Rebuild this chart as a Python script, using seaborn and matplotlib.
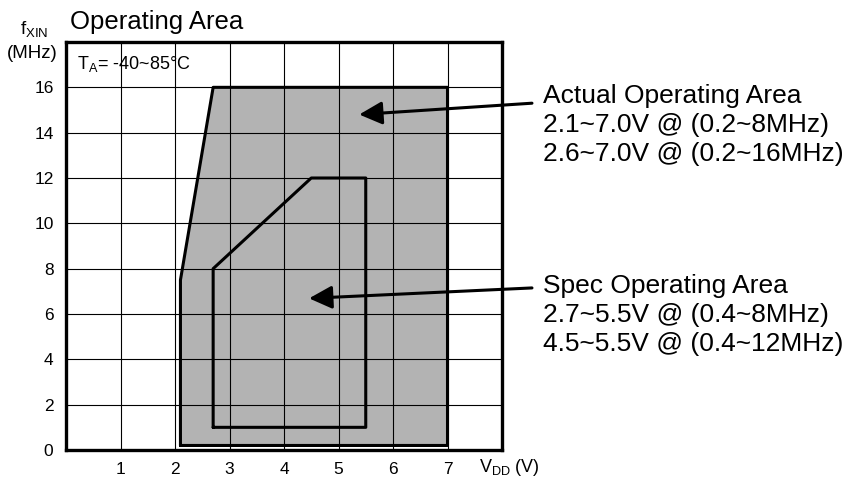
import numpy as np
import pandas as pd
import seaborn as sns
from matplotlib import pyplot as plt

# actual operating area outline (V, MHz)
actual_v = [2.1, 2.1, 2.7, 7.0, 7.0, 2.1]
actual_f = [0.2, 7.5, 16.0, 16.0, 0.2, 0.2]

# spec operating area outline (V, MHz)
spec_v = [2.7, 2.7, 4.5, 5.5, 5.5, 2.7]
spec_f = [1.0, 8.0, 12.0, 12.0, 1.0, 1.0]

x_ticks = [1, 2, 3, 4, 5, 6, 7]
y_ticks = [0, 2, 4, 6, 8, 10, 12, 14, 16]

actual_text = ['Actual Operating Area', '2.1~7.0V @ (0.2~8MHz)', '2.6~7.0V @ (0.2~16MHz)']
spec_text = ['Spec Operating Area', '2.7~5.5V @ (0.4~8MHz)', '4.5~5.5V @ (0.4~12MHz)']

sns.set_theme(style='white')
plt.rcParams['font.family'] = ['Liberation Sans', 'DejaVu Sans']
plt.rcParams['text.color'] = 'black'

fig = plt.figure(figsize=(8.53, 4.83), dpi=100)
ax = fig.add_axes([66 / 853, 33 / 483, 436 / 853, 408 / 483])

ax.fill(actual_v, actual_f, color='#b3b3b3', zorder=1, lw=0)

df_a = pd.DataFrame({'v': actual_v, 'f': actual_f})
df_s = pd.DataFrame({'v': spec_v, 'f': spec_f})
sns.lineplot(data=df_a, x='v', y='f', sort=False, estimator=None, color='black', lw=2.2, ax=ax, zorder=3)
sns.lineplot(data=df_s, x='v', y='f', sort=False, estimator=None, color='black', lw=2.2, ax=ax, zorder=3)

ax.set_xlim(0, 8)
ax.set_ylim(0, 18)
ax.set_xticks(x_ticks)
ax.set_yticks(y_ticks)
ax.set_axisbelow(False)
ax.grid(True, color='black', lw=0.8)
ax.tick_params(length=0, labelsize=12.5, colors='black', pad=9)
ax.set_xlabel('')
ax.set_ylabel('')
for s in ax.spines.values():
    s.set_color('black')
    s.set_linewidth(2.4)
    s.set_zorder(4)

# arrows
arrow = dict(arrowstyle='-|>,head_length=0.7,head_width=0.35', color='black',
             lw=2.2, mutation_scale=20, shrinkA=0, shrinkB=0)
ax.annotate('', xy=(5.38, 14.8), xytext=(8.55, 15.3), annotation_clip=False,
            arrowprops=arrow, zorder=5)
ax.annotate('', xy=(4.46, 6.69), xytext=(8.55, 7.15), annotation_clip=False,
            arrowprops=arrow, zorder=5)

for i, t in enumerate(actual_text):
    fig.text(543 / 853, 1 - (96 + 29 * i) / 483, t, fontsize=19, va='center', ha='left')
for i, t in enumerate(spec_text):
    fig.text(543 / 853, 1 - (286 + 29 * i) / 483, t, fontsize=19, va='center', ha='left')

fig.text(70 / 853, 1 - 22 / 483, 'Operating Area', fontsize=18.5, va='center', ha='left')
fig.text(34 / 853, 1 - 30 / 483, r'f$_{\mathregular{XIN}}$', fontsize=13.5, va='center', ha='center')
fig.text(32 / 853, 1 - 53 / 483, '(MHz)', fontsize=13.5, va='center', ha='center')
fig.text(77 / 853, 1 - 64 / 483, r'T$_{\mathregular{A}}$= -40~85°C', fontsize=13, va='center', ha='left')
fig.text(479 / 853, 1 - 468 / 483, r'V$_{\mathregular{DD}}$ (V)', fontsize=13, va='center', ha='left')

plt.savefig('out.png', dpi=100)
